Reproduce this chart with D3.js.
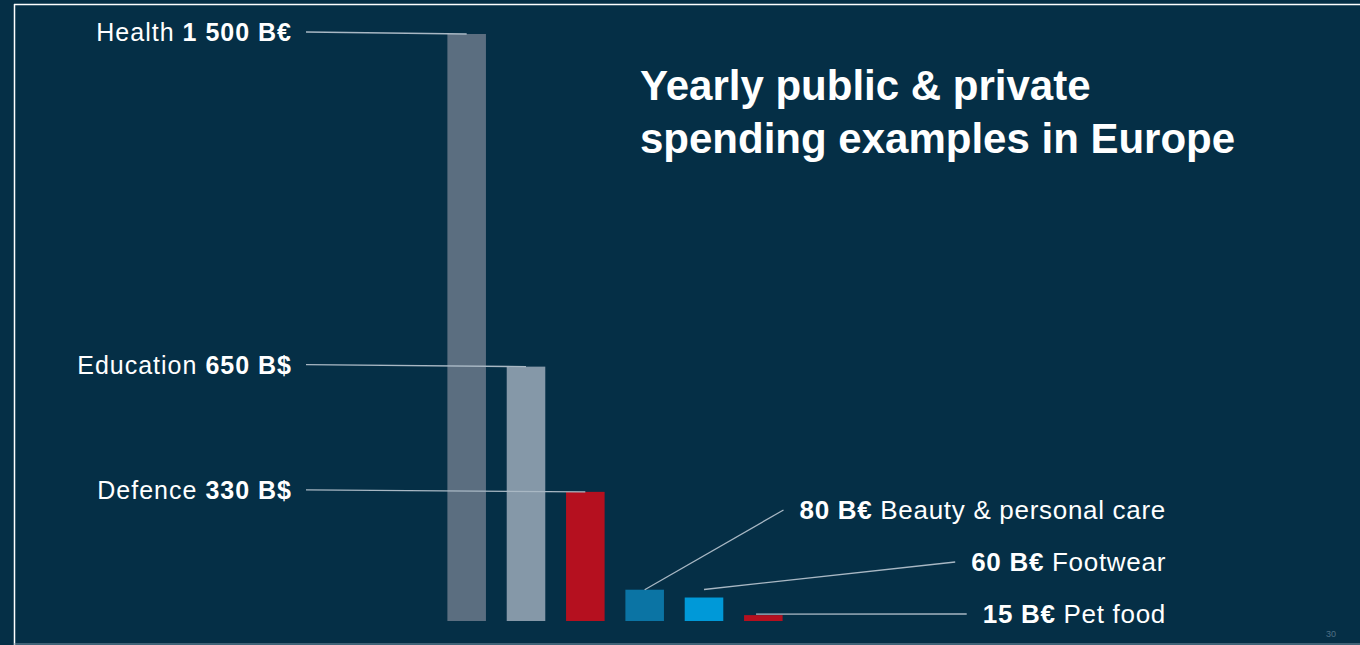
<!DOCTYPE html>
<html>
<head>
<meta charset="utf-8">
<script src="https://cdn.jsdelivr.net/npm/d3@7"></script>
<style>
  html, body { margin: 0; padding: 0; background: #052f46; }
  svg { display: block; }
  text { font-family: "Liberation Sans", Arial, sans-serif; fill: #fff; }
</style>
</head>
<body>
<div id="chart"></div>
<script>
// data
var categories = ["Health", "Education", "Defence", "Beauty & personal care", "Footwear", "Pet food"];
var values = [1500, 650, 330, 80, 60, 15];
var valueLabels = ["1 500 B€", "650 B$", "330 B$", "80 B€", "60 B€", "15 B€"];
var barColors = ["#5b6e80", "#8598a8", "#b5101f", "#0b74a4", "#0099d8", "#b5101f"];

var titleLines = ["Yearly public & private", "spending examples in Europe"];
var pageNumber = "30";

var width = 1360, height = 645;

var svg = d3.select("#chart")
  .append("svg")
    .attr("width", width)
    .attr("height", height);

// slide frame
svg.append("rect").attr("width", width).attr("height", height).attr("fill", "#052f46");
svg.append("line").attr("x1", 14).attr("x2", width).attr("y1", 4.5).attr("y2", 4.5)
  .attr("stroke", "#ffffff").attr("stroke-width", 1.5);
svg.append("line").attr("x1", 14.5).attr("x2", 14.5).attr("y1", 4).attr("y2", height)
  .attr("stroke", "#ffffff").attr("stroke-width", 1.5);
svg.append("line").attr("x1", 14).attr("x2", width).attr("y1", 644).attr("y2", 644)
  .attr("stroke", "#7f98a8").attr("stroke-width", 1);

// scales
var x = d3.scaleBand()
  .domain(categories)
  .range([437, 793])
  .paddingInner(0.35)
  .paddingOuter(0.175);

var y = d3.scaleLinear()
  .domain([0, 1500])
  .range([621, 34]);

var data = categories.map(function(c, i) {
  return { name: c, value: values[i], label: valueLabels[i], color: barColors[i], i: i };
});

// bars
svg.append("g")
  .selectAll("rect")
  .data(data)
  .enter().append("rect")
    .attr("x", function(d) { return x(d.name); })
    .attr("y", function(d) { return y(d.value); })
    .attr("width", x.bandwidth())
    .attr("height", function(d) { return y(0) - y(d.value); })
    .attr("fill", function(d) { return d.color; });

var lineColor = "#a9b8c4";

// big items: label on the left, leader line to the bar top
var left = data.slice(0, 3);
var labelRight = 292;

left.forEach(function(d) {
  var yy = y(d.value);
  svg.append("line")
    .attr("x1", labelRight + 14).attr("y1", yy - 2)
    .attr("x2", x(d.name) + x.bandwidth() / 2).attr("y2", yy)
    .attr("stroke", lineColor).attr("stroke-width", 1.3);
  var t = svg.append("text")
    .attr("x", labelRight)
    .attr("y", yy + 7)
    .attr("text-anchor", "end")
    .style("font-size", "25px")
    .style("letter-spacing", "1px");
  t.append("tspan").text(d.name + " ");
  t.append("tspan").style("font-weight", "bold").text(d.label);
});

// small items: label on the right
var right = data.slice(3);
var rightLabelY = [519, 571, 623];
var rightEdge = 1166;

right.forEach(function(d, k) {
  var t = svg.append("text")
    .attr("x", rightEdge)
    .attr("y", rightLabelY[k])
    .attr("text-anchor", "end")
    .style("font-size", "26px")
    .style("letter-spacing", "0.7px");
  t.append("tspan").style("font-weight", "bold").text(d.label);
  t.append("tspan").text(" " + d.name);
  var tw = t.node().getComputedTextLength();
  var sx = rightEdge - tw - 16;
  var top = y(d.value);
  var ex, ey;
  if (k === 0) { ex = x(d.name) + x.bandwidth() / 2; ey = top; }
  else if (k === 1) { ex = x(d.name) + x.bandwidth() / 2; ey = top - 8; }
  else { ex = x(d.name) + 12; ey = top - 1; }
  svg.append("line")
    .attr("x1", sx).attr("y1", rightLabelY[k] - 9)
    .attr("x2", ex).attr("y2", ey)
    .attr("stroke", lineColor).attr("stroke-width", 1.3);
});

// title
svg.append("g").selectAll("text")
  .data(titleLines)
  .enter().append("text")
    .attr("x", 640)
    .attr("y", function(d, i) { return 100 + i * 53; })
    .style("font-size", "42px")
    .style("font-weight", "bold")
    .text(function(d) { return d; });

svg.append("text")
  .attr("x", 1326).attr("y", 637)
  .style("font-size", "9px")
  .style("fill", "#4f6f85")
  .text(pageNumber);
</script>
</body>
</html>
